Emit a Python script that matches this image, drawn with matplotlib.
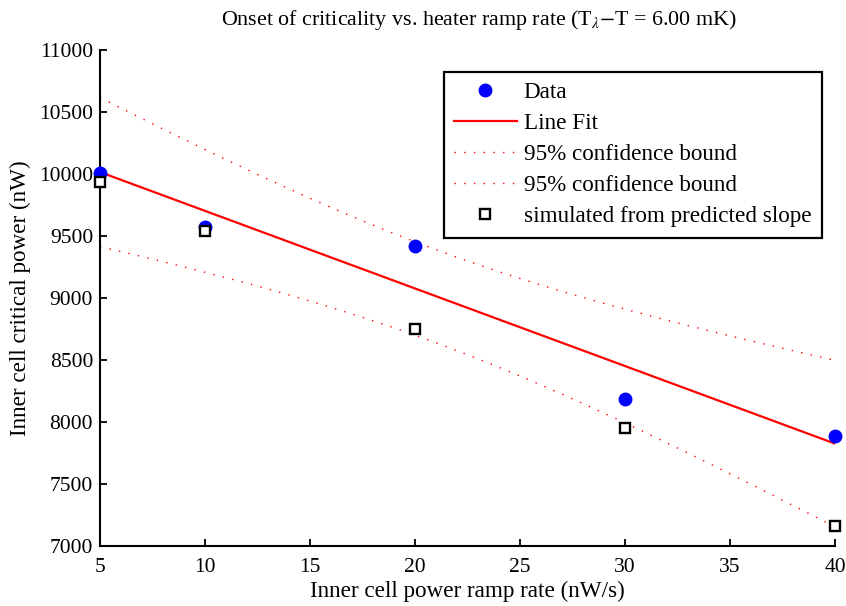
import numpy as np
import matplotlib
matplotlib.use("Agg")
import matplotlib.pyplot as plt

# ---- data ----
ramp_rate = [5, 10, 20, 30, 40]                     # nW/s
critical_power = [10005, 9575, 9420, 8185, 7887]    # nW (measured)
simulated_power = [9935, 9540, 8750, 7952, 7161]    # nW (simulated from predicted slope)
T_CRIT = 3.182                                      # t(0.975, dof=3) for 95% bounds

x_ticks = [5, 10, 15, 20, 25, 30, 35, 40]
y_ticks = [7000, 7500, 8000, 8500, 9000, 9500, 10000, 10500, 11000]

title = r"Onset of criticality vs. heater ramp rate (T$_\lambda$$-$T = 6.00 mK)"
xlabel = "Inner cell power ramp rate (nW/s)"
ylabel = "Inner cell critical power (nW)"

# ---- linear fit and 95% confidence bounds (computed from data) ----
x = np.asarray(ramp_rate, float)
y = np.asarray(critical_power, float)
coef = np.polyfit(x, y, 1)
n = len(x)
resid = y - np.polyval(coef, x)
s = np.sqrt(np.sum(resid**2) / (n - 2))
xbar = x.mean()
sxx = np.sum((x - xbar) ** 2)
xf = np.linspace(x.min(), x.max(), 200)
yf = np.polyval(coef, xf)
half = T_CRIT * s * np.sqrt(1.0 / n + (xf - xbar) ** 2 / sxx)

# ---- plotting ----
SERIF = ["Liberation Serif", "DejaVu Serif"]
plt.rcParams["font.family"] = SERIF
plt.rcParams["mathtext.fontset"] = "stix"

fig = plt.figure(figsize=(8.46, 6.06), dpi=100)
ax = fig.add_axes([0.1182, 0.099, 0.8688, 0.8185])

ax.plot(x, y, "o", color="blue", markersize=9, label="Data", zorder=4,
        clip_on=False)
ax.plot(xf, yf, "-", color="red", lw=1.6, label="Line Fit", zorder=3)
ax.plot(xf, yf + half, color="red", lw=1.0, linestyle=(0, (1, 6)),
        label="95% confidence bound", zorder=2)
ax.plot(xf, yf - half, color="red", lw=1.0, linestyle=(0, (1, 6)),
        label="95% confidence bound", zorder=2)
ax.plot(ramp_rate, simulated_power, "s", markerfacecolor="white",
        markeredgecolor="black", markeredgewidth=1.7, markersize=7.5,
        label="simulated from predicted slope", zorder=5, clip_on=False)

ax.set_xlim(5, 40)
ax.set_ylim(7000, 11000)
ax.set_xticks(x_ticks)
ax.set_xticklabels([str(v) for v in x_ticks], family=SERIF, fontsize=15.5)
ax.set_yticks(y_ticks)
ax.set_yticklabels([str(v) for v in y_ticks], family=SERIF, fontsize=15.5)
ax.tick_params(direction="in", length=5, width=1.3)
ax.tick_params(axis="y", pad=5)
ax.tick_params(axis="x", pad=8.5)
for side in ("top", "right"):
    ax.spines[side].set_visible(False)
for side in ("left", "bottom"):
    ax.spines[side].set_linewidth(1.5)

ax.set_title(title, fontsize=15.8, pad=18, x=0.515)
ax.set_xlabel(xlabel, fontsize=16.7, labelpad=3)
ax.set_ylabel(ylabel, fontsize=16.7, labelpad=6)

leg = ax.legend(loc="upper right", bbox_to_anchor=(0.982, 0.956),
                borderaxespad=0, fontsize=16.7, frameon=True, fancybox=False,
                edgecolor="black", framealpha=1, handlelength=2.7,
                handletextpad=0.3, labelspacing=0.42, borderpad=0.45,
                numpoints=1)
leg.get_frame().set_linewidth(1.6)

fig.savefig("out.png", dpi=100)
